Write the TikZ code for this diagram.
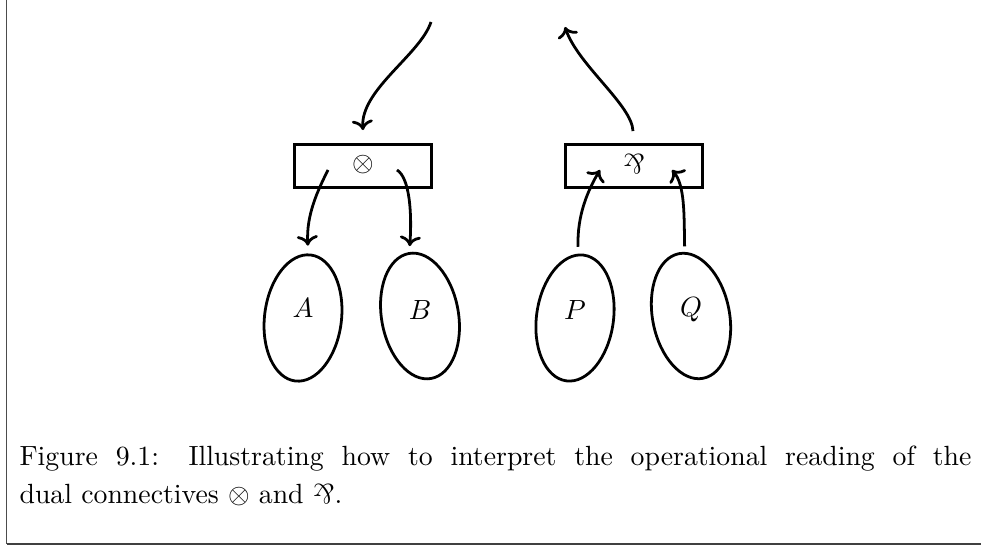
\documentclass[tikz,border=0pt]{standalone}
\usepackage{graphicx}
\usetikzlibrary{shapes.geometric,calc,arrows.meta}
\newcommand{\parrsym}{\mathbin{\rotatebox[origin=c]{180}{$\&$}}}
\tikzset{
  conbox/.style={draw, line width=1pt, rectangle, minimum width=49.3pt, minimum height=15.5pt, inner sep=0pt},
  blob/.style={draw, line width=1pt, ellipse, minimum width=27.7pt, minimum height=45.7pt, inner sep=0pt},
  lbl/.style={inner sep=0pt},
  wire/.style={line width=1pt, -{To[scale=0.95]}},
}
\begin{document}
\begin{tikzpicture}[x=0.36pt,y=-0.36pt]
\useasboundingbox (0,0) rectangle (981,547);
% frame
\draw[gray!60!black, line width=0.5pt] (6.5,0) -- (6.5,544);
\draw[black!75, line width=0.7pt] (6.5,544) -- (981,544);
% boxes
\node[conbox] (box1) at (363,166) {};
\node[lbl] (tens) at (363,165) {$\otimes$};
\node[conbox] (box2) at (634,166) {};
\node[lbl] (par) at (634,164) {$\parrsym$};
% ellipses
\node[blob, rotate=-7] (eA) at (303,318) {};
\node[blob, rotate=10] (eB) at (420,316) {};
\node[blob, rotate=-8] (eP) at (575,318) {};
\node[blob, rotate=11] (eQ) at (691,316) {};
\node[lbl] (A) at (303,308) {$A$};
\node[lbl] (B) at (420,310) {$B$};
\node[lbl] (P) at (575,310) {$P$};
\node[lbl] (Q) at (691,310) {$Q$};
% free ends
\coordinate (in1) at (431,22);
\coordinate (out2) at (565,27);
% connectors
\draw[wire] (in1) .. controls (420,55) and (360,90) .. ($(box1.north)+(0,-13)$);
\draw[wire] ($(box2.north)+(-1,-12)$) .. controls (632,105) and (578,65) .. (out2);
\draw[wire] ($(box1.center)+(-35,4)$) .. controls (318,190) and (306,215) .. ($(eA.north)+(-3,-8)$);
\draw[wire] ($(box1.center)+(34,4)$) .. controls (410,178) and (412,215) .. ($(eB.north)+(1,-6)$);
\draw[wire] ($(eP.north)+(-6,-7)$) .. controls (577,215) and (588,190) .. ($(box2.center)+(-34,4)$);
\draw[wire] ($(eQ.north)+(6,-6)$) .. controls (684,215) and (685,185) .. ($(box2.center)+(38,4)$);
% caption
\node[anchor=base west, inner sep=0pt] (cap1) at (19,466) {\hbox to 342.7pt{Figure 9.1: Illustrating how to interpret the operational reading of the}};
\node[anchor=base west, inner sep=0pt] (cap2) at (19,504) {dual connectives $\otimes$ and $\parrsym$.};
\end{tikzpicture}
\end{document}
